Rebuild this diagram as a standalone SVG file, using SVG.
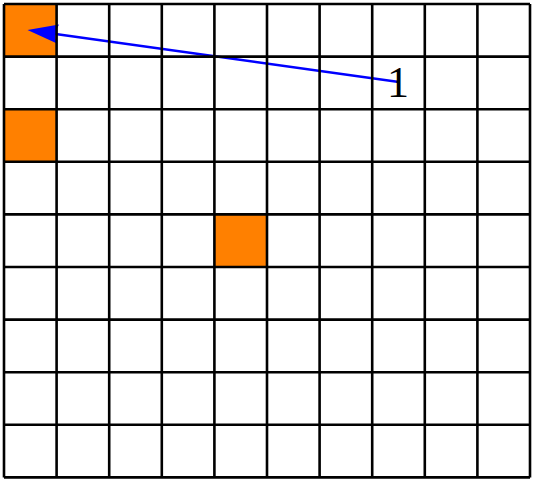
<svg xmlns="http://www.w3.org/2000/svg" width="534" height="482" viewBox="0 0 534 482">
<defs>
<style>
.cell{fill:#ff8000;stroke:none}
.grid{stroke:#000;stroke-width:2.6;fill:none}
.conn{stroke:#0000ff;stroke-width:2.6;fill:none}
.head{fill:#0000ff;stroke:none}
.lbl{font-family:"Liberation Serif","DejaVu Serif",serif;font-size:44px;fill:#000}
</style>
</defs>
<rect width="534" height="482" fill="#fff"/>
<g id="cells">
<rect id="c00" class="cell" x="4" y="4" width="52.6" height="52.6"/>
<rect id="c02" class="cell" x="4" y="109.2" width="52.6" height="52.6"/>
<rect id="c44" class="cell" x="214.4" y="214.4" width="52.6" height="52.6"/>
</g>
<g id="connectors">
<line class="conn" x1="399" y1="82" x2="52" y2="33.5"/>
<path class="head" d="M27.5,30 L59,24.6 Q53,34 57,43.4 Z"/>
</g>
<g id="grid" class="grid">
<path d="M4,4V477.4M56.6,4V477.4M109.2,4V477.4M161.8,4V477.4M214.4,4V477.4M267,4V477.4M319.6,4V477.4M372.2,4V477.4M424.8,4V477.4M477.4,4V477.4M530,4V477.4"/>
<path d="M4,4H530M4,56.6H530M4,109.2H530M4,161.8H530M4,214.4H530M4,267H530M4,319.6H530M4,372.2H530M4,424.8H530M4,477.4H530"/>
</g>
<g id="label">
<text class="lbl" x="398" y="97" text-anchor="middle">1</text>
</g>
</svg>
